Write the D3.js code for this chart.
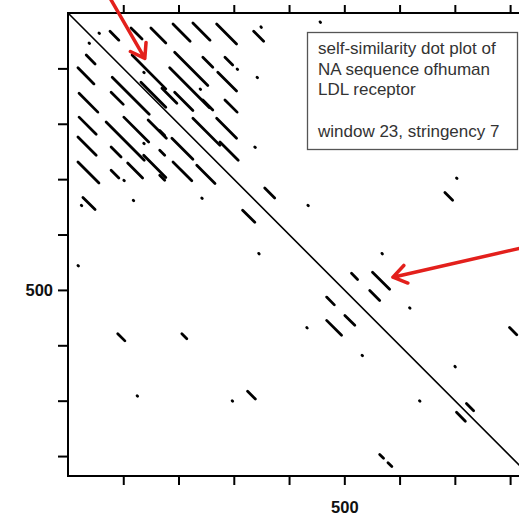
<!DOCTYPE html>
<meta charset="utf-8">
<title>LDL receptor dot plot</title>
<style>
body {
  margin: 0;
  background: #fff;
}
.frame, .axis path, .axis line {
  stroke: #000;
  stroke-width: 2px;
  fill: none;
}
.axis text {
  font-family: "Liberation Sans", Arial, sans-serif;
  font-weight: bold;
  font-size: 16.5px;
  fill: #111;
}
.seg {
  stroke: #000;
  stroke-linecap: round;
}
.arrow {
  stroke: #e3201c;
  stroke-width: 3.5px;
  fill: none;
  stroke-linecap: round;
  stroke-linejoin: round;
}
.note text {
  font-family: "Liberation Sans", Arial, sans-serif;
  font-size: 17px;
  fill: #333;
}
</style>
<body>
<script src="https://cdn.jsdelivr.net/npm/d3@7"></script>
<script>

// sequence positions (both axes are the same sequence)
var seqLength = 836;
var tickValues = [100, 200, 300, 400, 500, 600, 700, 800];
var labelledTicks = [500];

// main diagonal: [x start, y start, length]
var diagonal = [0, 0, 836];

// off-diagonal matches: [x start, y start, length]
var segments = [
  // repeat block, first rows
  [76, 33, 16], [114, 27, 20], [150, 27, 27], [190, 20, 31], [226, 18, 31], [269, 20, 36],
  [336, 33, 18], [349, 25, 1], [56, 36, 1], [38, 54, 1],
  [33, 76, 16], [116, 76, 61], [193, 71, 60], [244, 80, 18], [284, 80, 14], [306, 101, 1],
  [18, 99, 29], [80, 116, 67], [132, 125, 45], [184, 99, 72], [271, 107, 34],
  [137, 107, 1], [342, 116, 1], [239, 137, 1],
  [20, 145, 34], [78, 143, 22], [170, 136, 27], [193, 143, 33], [244, 157, 18], [284, 157, 22],
  // repeat block, lower rows
  [20, 188, 31], [69, 197, 69], [101, 188, 45], [145, 193, 33], [226, 190, 49], [269, 190, 36],
  [137, 235, 1], [338, 242, 1],
  [18, 224, 33], [78, 242, 18], [137, 257, 40], [188, 226, 38], [275, 233, 33],
  [166, 212, 9], [166, 248, 9],
  [18, 269, 38], [78, 284, 14], [108, 271, 27], [190, 269, 34], [233, 275, 33],
  [166, 293, 9], [101, 302, 1],
  // scattered matches
  [27, 333, 22], [24, 347, 1], [118, 338, 1], [242, 334, 1],
  [356, 316, 18], [316, 356, 22], [434, 347, 1], [703, 298, 1], [682, 324, 14],
  [345, 434, 1], [18, 456, 1], [568, 434, 1],
  [513, 470, 11], [551, 468, 31], [546, 501, 18], [468, 513, 14],
  [501, 546, 18], [468, 555, 27], [432, 568, 1], [618, 532, 1], [799, 568, 13],
  [532, 618, 1], [90, 579, 13], [206, 579, 9], [700, 638, 1],
  [125, 691, 1], [297, 700, 1], [325, 683, 14], [636, 700, 1],
  [703, 721, 16], [721, 705, 13], [564, 797, 7], [579, 812, 7], [456, 16, 1]
];

// red pointer arrows: [tail x, tail y, tip x, tip y] in sequence positions
var arrows = [
  [76, -27, 139, 82],
  [826, 423, 588, 477]
];

var noteLines = ["self-similarity dot plot of", "NA sequence ofhuman", "LDL receptor", "", "window 23, stringency 7"];

var width = 519,
    height = 517;

var x = d3.scaleLinear().domain([0, seqLength]).range([68, 530]);
var y = d3.scaleLinear().domain([0, seqLength]).range([13, 476]);

var svg = d3.select("body").append("svg")
    .attr("width", width)
    .attr("height", height);

var fmt = function(d) { return labelledTicks.indexOf(d) >= 0 ? d : ""; };

svg.append("g")
    .attr("class", "axis")
    .attr("transform", "translate(" + x(0) + ",0)")
    .call(d3.axisLeft(y).tickValues(tickValues).tickFormat(fmt).tickSize(10).tickSizeOuter(0).tickPadding(5));

svg.append("g")
    .attr("class", "axis")
    .attr("transform", "translate(0," + y(seqLength) + ")")
    .call(d3.axisBottom(x).tickValues(tickValues).tickFormat(fmt).tickSize(9).tickSizeOuter(0).tickPadding(16));

svg.append("g")
    .attr("class", "axis")
    .attr("transform", "translate(0," + y(0) + ")")
    .call(d3.axisTop(x).tickValues(tickValues).tickFormat("").tickSize(8).tickSizeOuter(0));

svg.selectAll(".axis .domain").remove();

svg.append("rect")
    .attr("class", "frame")
    .attr("x", x(0))
    .attr("y", y(0))
    .attr("width", x(seqLength) - x(0))
    .attr("height", y(seqLength) - y(0));

svg.append("line")
    .attr("class", "seg")
    .attr("x1", x(diagonal[0]))
    .attr("y1", y(diagonal[1]))
    .attr("x2", x(diagonal[0] + diagonal[2]))
    .attr("y2", y(diagonal[1] + diagonal[2]))
    .style("stroke-width", 1.6);

svg.selectAll(".match")
    .data(segments)
  .enter().append("line")
    .attr("class", "seg match")
    .attr("x1", function(d) { return x(d[0]); })
    .attr("y1", function(d) { return y(d[1]); })
    .attr("x2", function(d) { return x(d[0] + d[2]); })
    .attr("y2", function(d) { return y(d[1] + d[2]); })
    .style("stroke-width", 2.8);

// text box
var note = svg.append("g").attr("class", "note");
note.append("rect")
    .attr("x", 307.5).attr("y", 32.5)
    .attr("width", 210).attr("height", 117)
    .attr("fill", "#fff")
    .attr("stroke", "#555")
    .attr("stroke-width", 1.3);
note.selectAll("text")
    .data(noteLines)
  .enter().append("text")
    .attr("x", 318)
    .attr("y", function(d, i) { return 54 + i * 20.7; })
    .text(function(d) { return d; });

// arrows
arrows.forEach(function(a) {
  var x0 = x(a[0]), y0 = y(a[1]), x1 = x(a[2]), y1 = y(a[3]);
  var ang = Math.atan2(y1 - y0, x1 - x0), L = 16, s = 0.6;
  var p = d3.path();
  p.moveTo(x0, y0);
  p.lineTo(x1, y1);
  p.moveTo(x1 - L * Math.cos(ang - s), y1 - L * Math.sin(ang - s));
  p.lineTo(x1, y1);
  p.lineTo(x1 - L * Math.cos(ang + s), y1 - L * Math.sin(ang + s));
  svg.append("path").attr("class", "arrow").attr("d", p.toString());
});

</script>
</body>
